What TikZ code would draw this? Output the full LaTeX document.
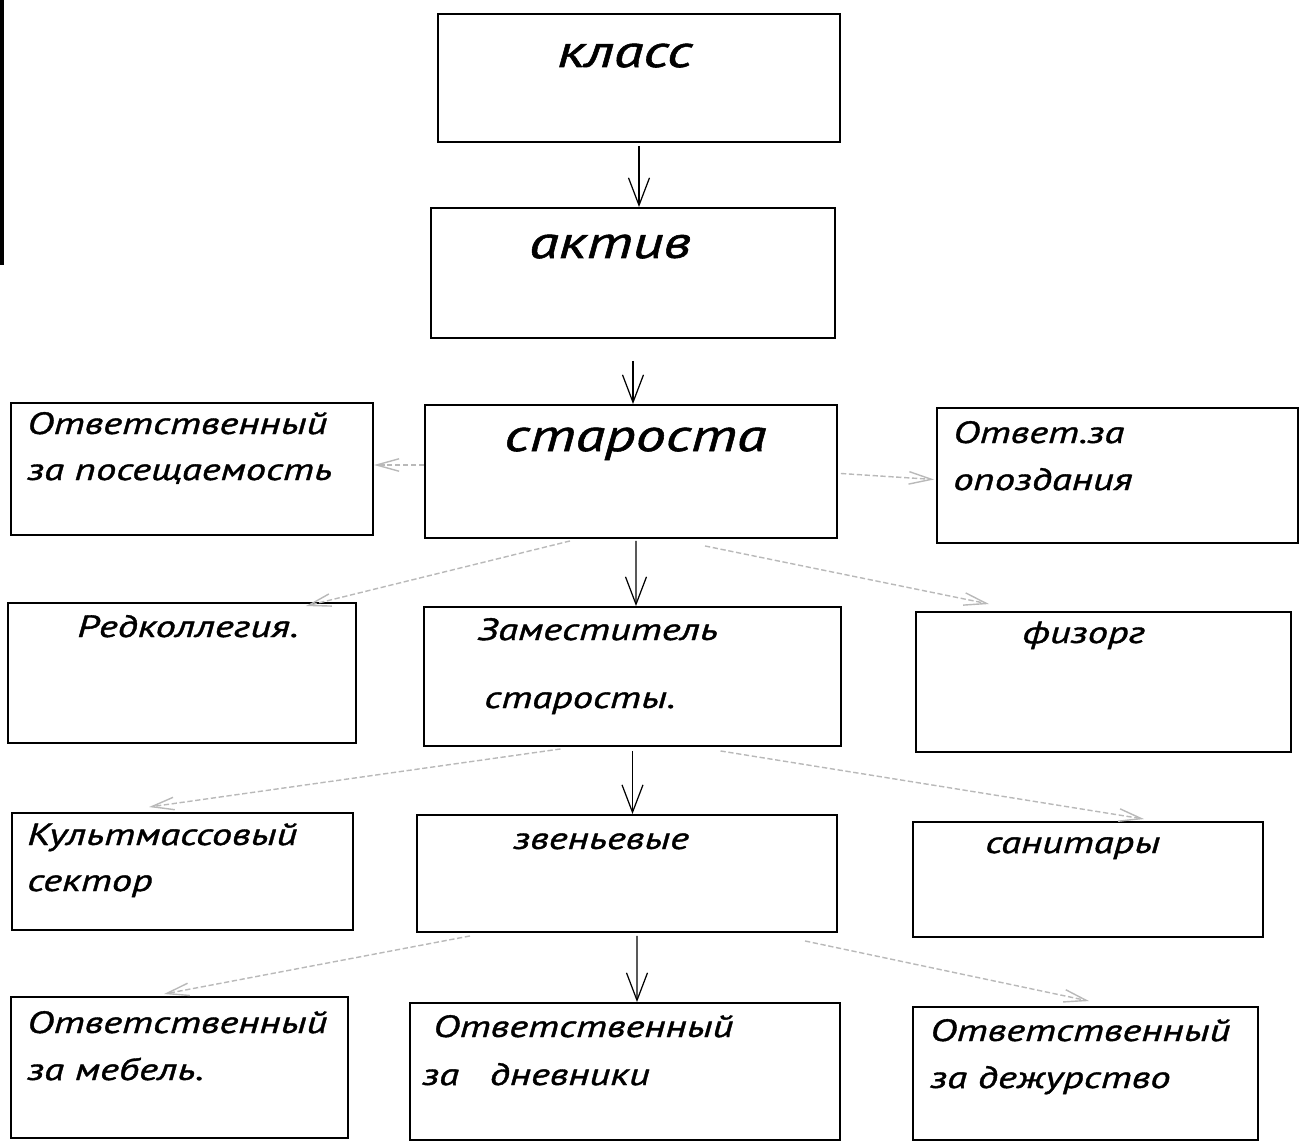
\documentclass[tikz,border=0pt]{standalone}
\usepackage{fontspec}
\setmainfont{PT Sans}[FakeStretch=1.32,FakeBold=1.2]
\newfontfamily\krupno{PT Sans}[FakeStretch=1.32,FakeBold=1.2]
\usetikzlibrary{arrows.meta,fit}

\begin{document}
\begin{tikzpicture}[x=0.02cm, y=-0.02cm,
	box/.style={draw, line width=1.1pt, inner sep=0pt},
	big/.style={anchor=base west, inner sep=0pt, font=\krupno\fontsize{26}{30}\selectfont\itshape},
	small/.style={anchor=base west, inner sep=0pt, font=\fontsize{17.5}{21}\selectfont\itshape},
	main/.style={-{Straight Barb[length=0.55cm,width=0.42cm]}, line width=0.7pt},
	side/.style={-{Straight Barb[length=0.45cm,width=0.25cm]}, draw=gray!55, line width=0.8pt, dash pattern=on 3pt off 1.5pt}]
	\useasboundingbox (0,0) rectangle (1302,1142);
	\draw[line width=0.08cm] (2,0) -- (2,265);
	\node (klass) [box, fit={(438,14) (840,142)}] {};
	\node (aktiv) [box, fit={(431,208) (835,338)}] {};
	\node (starosta) [box, fit={(425,405) (837,538)}] {};
	\node (poseshch) [box, fit={(11,403) (373,535)}] {};
	\node (opozd) [box, fit={(937,408) (1298,543)}] {};
	\node (redkol) [box, fit={(8,603) (356,743)}] {};
	\node (zam) [box, fit={(424,607) (841,746)}] {};
	\node (fizorg) [box, fit={(916,612) (1291,752)}] {};
	\node (kult) [box, fit={(12,813) (353,930)}] {};
	\node (zven) [box, fit={(417,815) (837,932)}] {};
	\node (sanit) [box, fit={(913,822) (1263,937)}] {};
	\node (mebel) [box, fit={(11,997) (348,1138)}] {};
	\node (dnevn) [box, fit={(410,1003) (840,1140)}] {};
	\node (dezhur) [box, fit={(913,1007) (1258,1140)}] {};

	\node (klass-t) [big] at (557,67) {класс};
	\node (aktiv-t) [big] at (529,258) {актив};
	\node (starosta-t) [big] at (504,451) {староста};
	\node (poseshch-1) [small] at (27,434) {Ответственный};
	\node (poseshch-2) [small] at (27,480) {за посещаемость};
	\node (opozd-1) [small] at (953,443) {Ответ.за};
	\node (opozd-2) [small] at (953,490) {опоздания};
	\node (redkol-t) [small] at (77,637) {Редколлегия.};
	\node (zam-1) [small] at (477,640) {Заместитель};
	\node (zam-2) [small] at (484,708) {старосты.};
	\node (fizorg-t) [small] at (1022,643) {физорг};
	\node (kult-1) [small] at (27,845) {Культмассовый};
	\node (kult-2) [small] at (27,891) {сектор};
	\node (zven-t) [small] at (513,849) {звеньевые};
	\node (sanit-t) [small] at (985,853) {санитары};
	\node (mebel-1) [small] at (27,1033) {Ответственный};
	\node (mebel-2) [small] at (27,1080) {за мебель.};
	\node (dnevn-1) [small] at (433,1037) {Ответственный};
	\node (dnevn-2) [small] at (422,1085) {за\hspace{1em}дневники};
	\node (dezhur-1) [small] at (930,1041) {Ответственный};
	\node (dezhur-2) [small] at (930,1088) {за дежурство};

	\draw[main] ([yshift=-0.06cm]klass.south) -- (klass.south |- aktiv.north);
	\draw[main] ([yshift=-0.44cm]aktiv.south) -- (aktiv.south |- starosta.north);
	\draw[side] ([yshift=0.13cm]starosta.west) -- ([yshift=0.13cm]starosta.west -| poseshch.east);
	\draw[side] ([shift={(3,2)}]starosta.east) -- ([shift={(-2,4)}]opozd.west);
	\draw[side] ([shift={(-61,2)}]starosta.south) -- ([shift={(-51,4)}]redkol.north east);
	\draw[main] ([shift={(5,2)}]starosta.south) -- ([xshift=0.1cm]starosta.south |- zam.north);
	\draw[side] ([shift={(74,7)}]starosta.south) -- ([shift={(74,-7)}]fizorg.north west);
	\draw[side] ([shift={(-72,2)}]zam.south) -- ([shift={(138,-5)}]kult.north west);
	\draw[main] ([shift={(0,4)}]zam.south) -- (zam.south |- zven.north);
	\draw[side] ([shift={(88,4)}]zam.south) -- ([shift={(-120,-2)}]sanit.north east);
	\draw[side] ([shift={(-157,3)}]zven.south) -- ([shift={(154,-2)}]mebel.north west);
	\draw[main] ([shift={(10,3)}]zven.south) -- ([xshift=0.2cm]zven.south |- dnevn.north);
	\draw[side] ([shift={(178,8)}]zven.south) -- ([shift={(177,-5)}]dezhur.north west);
\end{tikzpicture}
\end{document}
